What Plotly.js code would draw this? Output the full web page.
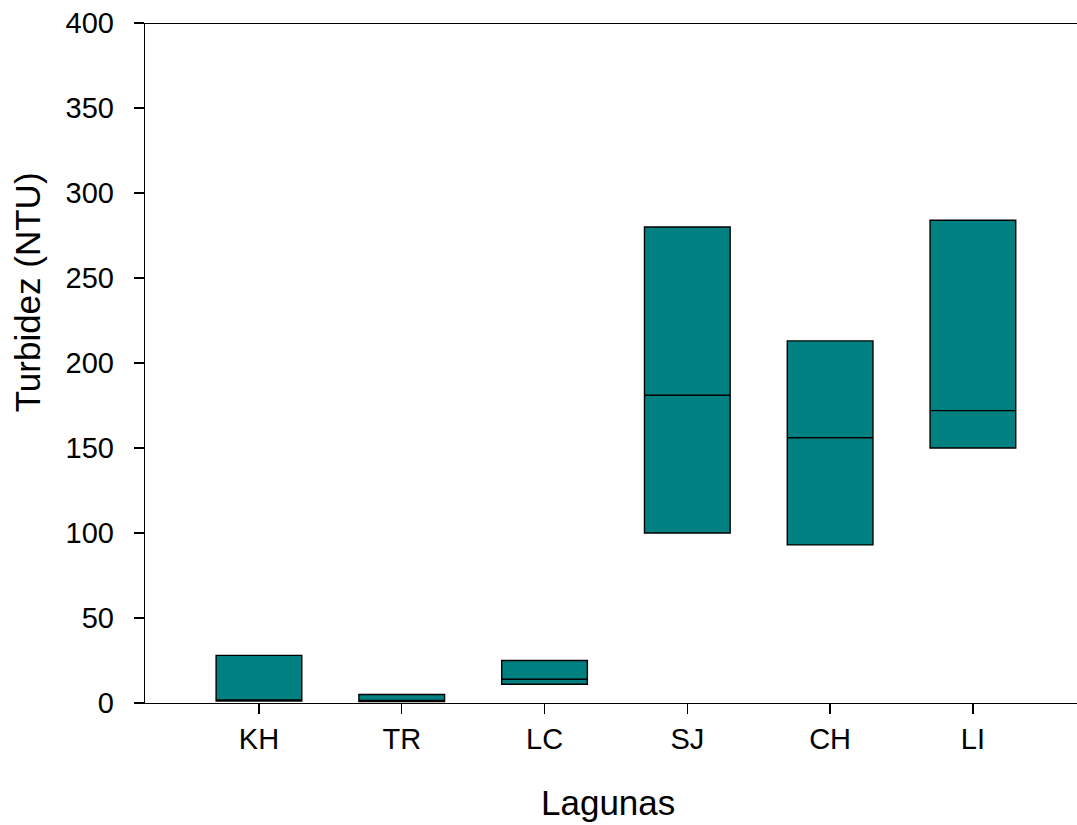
<!DOCTYPE html>
<html>
<head>
<meta charset="utf-8">
<script src="https://cdn.plot.ly/plotly-3.0.1.min.js"></script>
<style>
html,body{margin:0;padding:0;background:#fff;overflow:hidden;}
#chart{width:1077px;height:825px;}
</style>
</head>
<body>
<div id="chart"></div>
<script>
const lagunas = ["KH", "TR", "LC", "SJ", "CH", "LI"];
const q1 = [1.2, 0.8, 11, 100, 93, 150];
const medians = [1.5, 1.5, 14, 181, 156, 172];
const q3 = [28, 5, 25, 280, 213, 284];
const yTicks = [0, 50, 100, 150, 200, 250, 300, 350, 400];

const FONT = "Liberation Sans, Arial, Helvetica, sans-serif";

const trace = {
  type: "box",
  x: lagunas,
  q1: q1,
  median: medians,
  q3: q3,
  lowerfence: q1,
  upperfence: q3,
  width: 0.6,
  whiskerwidth: 0,
  fillcolor: "#008080",
  line: {color: "#000000", width: 1.4},
  boxpoints: false,
  hoverinfo: "skip",
  showlegend: false
};

const layout = {
  width: 1077,
  height: 825,
  margin: {l: 145, r: 0, t: 23, b: 122},
  paper_bgcolor: "#ffffff",
  plot_bgcolor: "#ffffff",
  font: {family: FONT, color: "#000000"},
  showlegend: false,
  xaxis: {
    type: "category",
    range: [-0.798, 5.729],
    showgrid: false,
    zeroline: false,
    showline: true,
    linecolor: "#000000",
    linewidth: 1.3,
    ticks: "outside",
    ticklen: 10,
    tickwidth: 1.3,
    tickcolor: "#000000",
    ticklabelstandoff: 0,
    tickfont: {size: 29, family: FONT, color: "#000000"}
  },
  yaxis: {
    range: [0, 400],
    tickvals: yTicks,
    ticktext: yTicks.map(String),
    showgrid: false,
    zeroline: false,
    showline: true,
    linecolor: "#000000",
    linewidth: 1.3,
    ticks: "outside",
    ticklen: 10,
    tickwidth: 1.3,
    tickcolor: "#000000",
    ticklabelstandoff: 14,
    tickfont: {size: 29, family: FONT, color: "#000000"}
  },
  shapes: [{
    type: "line", xref: "paper", yref: "y",
    x0: 0, x1: 1, y0: 400, y1: 400,
    line: {color: "#000000", width: 2.2}
  }],
  annotations: [
    {
      text: "Turbidez (NTU)", xref: "paper", yref: "paper",
      x: -0.1266, y: 0.604, xanchor: "center", yanchor: "middle",
      textangle: -90, showarrow: false,
      font: {size: 35, family: FONT, color: "#000000"}
    },
    {
      text: "Lagunas", xref: "paper", yref: "paper",
      x: 0.4968, y: -0.1463, xanchor: "center", yanchor: "middle",
      showarrow: false,
      font: {size: 35, family: FONT, color: "#000000"}
    }
  ]
};

Plotly.newPlot("chart", [trace], layout, {staticPlot: true, displayModeBar: false});
</script>
</body>
</html>
